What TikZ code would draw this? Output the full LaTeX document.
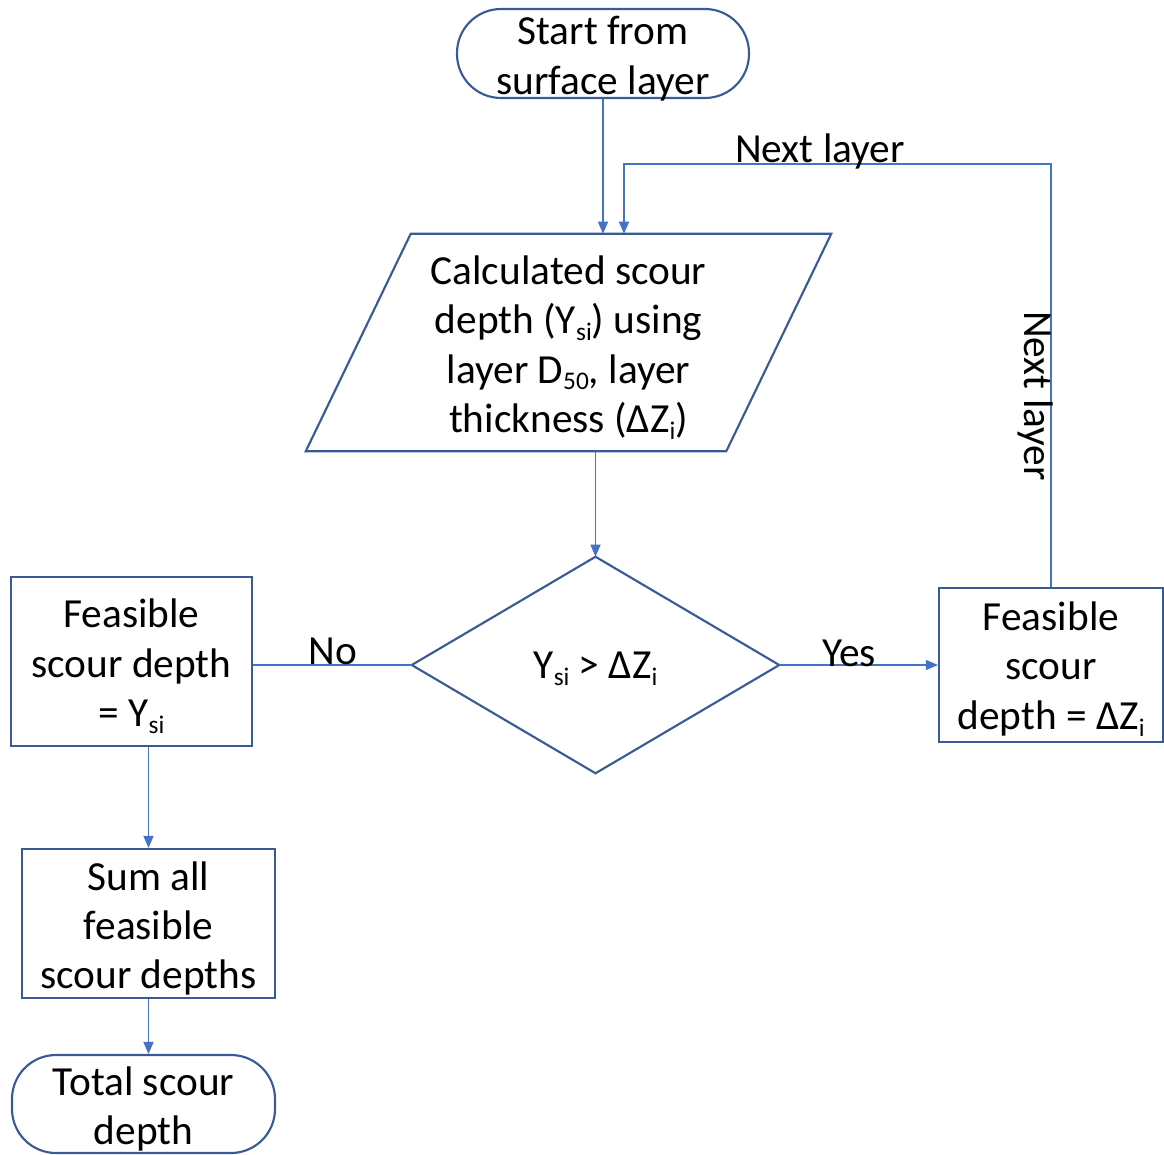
\documentclass[tikz,border=0pt]{standalone}
\usepackage{fontspec}
\setmainfont{Carlito}
\usetikzlibrary{calc,arrows.meta}
\definecolor{bord}{HTML}{3A5A96}
\definecolor{conn}{HTML}{4472C4}
\newcommand{\sbs}[1]{\raisebox{-0.35ex}{\fontsize{19}{19}\selectfont #1}}
\begin{document}
\begin{tikzpicture}[x=0.75pt,y=-0.75pt,
  font=\fontsize{31}{37}\selectfont,
  box/.style={draw=bord,line width=1.6pt,inner sep=0pt},
  term/.style={box,rounded corners=33pt},
  ghost/.style={inner sep=0pt,align=center},
  arr/.style={draw=conn,line width=1pt,-{Triangle[length=9pt,width=7.5pt]}},
  ln/.style={draw=conn,line width=1pt},
  lbl/.style={inner sep=0pt}]
\useasboundingbox (0,0) rectangle (1164,1154);

% shapes
\node[term,minimum width={292*0.75pt},minimum height={89*0.75pt}] (start) at (603,53.5) {};
\node[inner sep=0pt,minimum width={525*0.75pt},minimum height={217*0.75pt}] (calc) at (568.5,342.5) {};
\draw[bord,line width=1.6pt] ($(calc.north west)+(105,0)$) -- (calc.north east) -- ($(calc.south east)+(-105,0)$) -- (calc.south west) -- cycle;
\node[inner sep=0pt,minimum width={367*0.75pt},minimum height={216*0.75pt}] (dec) at (595.5,665) {};
\draw[bord,line width=1.6pt] (dec.north) -- (dec.east) -- (dec.south) -- (dec.west) -- cycle;
\node[box,minimum width={241*0.75pt},minimum height={169*0.75pt}] (fy) at (131.5,661.5) {};
\node[box,minimum width={224*0.75pt},minimum height={154*0.75pt}] (fz) at (1051,665) {};
\node[box,minimum width={253*0.75pt},minimum height={149*0.75pt}] (sum) at (148.5,923.5) {};
\node[term,minimum width={263*0.75pt},minimum height={98*0.75pt}] (total) at (143.5,1104) {};

% texts
\node[ghost] (startt) at ($(start)+(0,5)$) {Start from\\surface layer};
\node[ghost] (calct) at ($(calc)+(0,5)$) {Calculated scour\\depth (Y\sbs{si}) using\\layer D\sbs{50}, layer\\thickness (ΔZ\sbs{i})};
\node[ghost] (dect) at ($(dec)+(0,4)$) {Y\sbs{si} > ΔZ\sbs{i}};
\node[ghost] (fyt) at ($(fy)+(0,5)$) {Feasible\\scour depth\\= Y\sbs{si}};
\node[ghost] (fzt) at ($(fz)+(0,4)$) {Feasible\\scour\\depth = ΔZ\sbs{i}};
\node[ghost] (sumt) at ($(sum)+(0,5)$) {Sum all\\feasible\\scour depths};
\node[ghost] (totalt) at ($(total)+(0,5)$) {Total scour\\depth};

% connectors
\coordinate (lt) at (624,164);
\draw[arr] (start.south) -- (start.south |- calc.north);
\draw[arr] (fz.north) |- (lt) -- (lt |- calc.north);
\node[lbl,anchor=base] (nl1) at (820,162) {Next layer};
\node[lbl,rotate=-90] (nl2) at (1036,396) {Next layer};

\draw[arr] (dec.north |- calc.south) -- (dec.north);
\draw[ln] (dec.west) -- (dec.west -| fy.east);
\node[lbl,anchor=base] (no) at (333,664) {No};
\draw[arr] (dec.east) -- (fz.west);
\node[lbl,anchor=base] (yes) at (849,666) {Yes};

\draw[arr] (sum.north |- fy.south) -- (sum.north);
\draw[arr] (sum.south) -- (sum.south |- total.north);
\end{tikzpicture}
\end{document}
